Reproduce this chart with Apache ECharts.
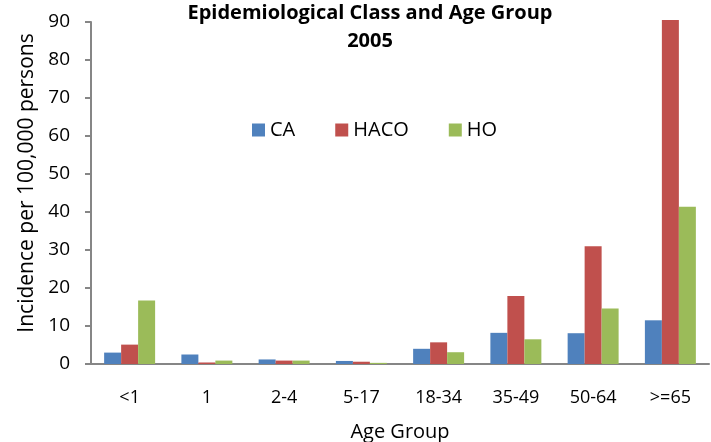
<!DOCTYPE html>
<html>
<head>
<meta charset="utf-8">
<script src="https://cdn.jsdelivr.net/npm/echarts@6/dist/echarts.min.js"></script>
<style>
  html, body { margin: 0; padding: 0; background: #fff; }
  #main { width: 711px; height: 442px; }
</style>
</head>
<body>
<div id="main"></div>
<script>
// age groups on the x axis
const ageGroups = ['<1', '1', '2-4', '5-17', '18-34', '35-49', '50-64', '>=65'];
// incidence per 100,000 persons
const caValues = [3.0, 2.5, 1.2, 0.8, 4.0, 8.2, 8.1, 11.5];
const hacoValues = [5.1, 0.4, 0.9, 0.6, 5.7, 17.9, 31.0, 90.5];
const hoValues = [16.7, 0.9, 0.9, 0.3, 3.1, 6.5, 14.6, 41.4];
const yTicks = [0, 10, 20, 30, 40, 50, 60, 70, 80, 90];

const font = 'Open Sans';
const chartDom = document.getElementById('main');
const myChart = echarts.init(chartDom);

const option = {
  animation: false,
  title: {
    text: 'Epidemiological Class and Age Group\n2005',
    left: 365,
    textAlign: 'center',
    top: -6,
    textStyle: { fontFamily: font, fontWeight: 'bold', fontSize: 20, lineHeight: 28, color: '#000' }
  },
  legend: {
    left: 247,
    top: 115,
    itemWidth: 13,
    itemHeight: 13,
    itemGap: 40,
    icon: 'rect',
    textStyle: { fontFamily: font, fontSize: 20, color: '#000' },
    data: ['CA', 'HACO', 'HO']
  },
  grid: { left: 91, right: 2, top: 22, bottom: 78, outerBoundsMode: 'none' },
  xAxis: {
    type: 'category',
    data: ageGroups,
    name: 'Age Group',
    nameLocation: 'middle',
    nameGap: 58,
    nameTextStyle: { fontFamily: font, fontSize: 20, color: '#000' },
    axisLine: { lineStyle: { color: '#868686', width: 2 } },
    axisTick: { show: false },
    axisLabel: { fontFamily: font, fontSize: 18, color: '#000', margin: 25 }
  },
  yAxis: {
    type: 'value',
    min: yTicks[0],
    max: yTicks[yTicks.length - 1],
    interval: 10,
    name: 'Incidence per 100,000 persons',
    nameLocation: 'middle',
    nameGap: 48,
    nameTextStyle: { fontFamily: font, fontSize: 21, color: '#000', padding: [0, 0, 0, 20] },
    splitLine: { show: false },
    axisLine: { show: true, lineStyle: { color: '#868686', width: 2 } },
    axisTick: { show: true, length: 6, lineStyle: { color: '#868686', width: 2 } },
    axisLabel: { fontFamily: font, fontSize: 19, color: '#000', margin: 21 }
  },
  series: [
    { name: 'CA', type: 'bar', data: caValues, barGap: '0%', barCategoryGap: '34%', clip: false,
      itemStyle: { color: '#4F81BD' } },
    { name: 'HACO', type: 'bar', data: hacoValues, clip: false,
      itemStyle: { color: '#C0504D' } },
    { name: 'HO', type: 'bar', data: hoValues, clip: false,
      itemStyle: { color: '#9BBB59' } }
  ]
};
option && myChart.setOption(option);
</script>
</body>
</html>
